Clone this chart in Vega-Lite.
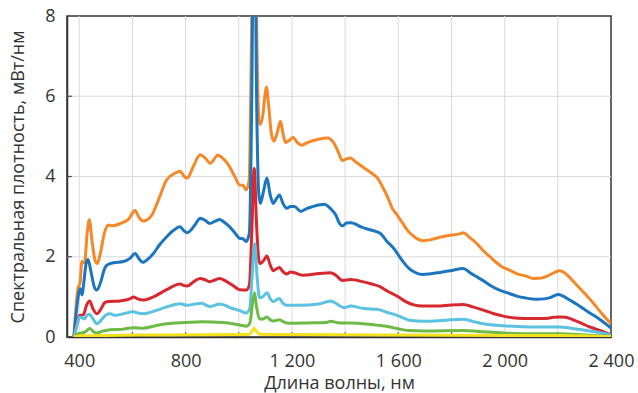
{
  "$schema": "https://vega.github.io/schema/vega-lite/v6.json",
  "width": 544,
  "height": 321,
  "autosize": "none",
  "padding": {"left": 67, "top": 16, "right": 27, "bottom": 56},
  "config": {
    "view": {"stroke": "#333333", "strokeWidth": 1.5},
    "font": "Open Sans",
    "axis": {
      "labelFont": "Open Sans", "titleFont": "Open Sans",
      "labelFontSize": 18, "titleFontSize": 18,
      "labelColor": "#333333", "titleColor": "#333333",
      "titleFontWeight": "normal",
      "domainColor": "#333333", "domainWidth": 1.5,
      "ticks": false, "grid": false
    }
  },
  "layer": [
    {
      "data": {"values": [{"v":400},{"v":600},{"v":800},{"v":1000},{"v":1200},{"v":1400},{"v":1600},{"v":1800},{"v":2000},{"v":2200}]},
      "mark": {"type": "rule", "color": "#dadada", "strokeWidth": 1},
      "encoding": {"x": {"field": "v", "type": "quantitative", "scale": {"domain": [354, 2400], "nice": false, "zero": false}}}
    },
    {
      "data": {"values": [{"v":2},{"v":4},{"v":6}]},
      "mark": {"type": "rule", "color": "#dadada", "strokeWidth": 1},
      "encoding": {"y": {"field": "v", "type": "quantitative", "scale": {"domain": [0, 8], "nice": false}}}
    },
    {
      "data": {"values": [{"v":400},{"v":600},{"v":800},{"v":1000},{"v":1200},{"v":1400},{"v":1600},{"v":1800},{"v":2000},{"v":2200}]},
      "mark": {"type": "rule", "color": "#444444", "strokeWidth": 1.2},
      "encoding": {
        "x": {"field": "v", "type": "quantitative", "scale": {"domain": [354, 2400], "nice": false, "zero": false}},
        "y": {"datum": 0, "type": "quantitative", "scale": {"domain": [0, 8], "nice": false}},
        "y2": {"datum": 0.12}
      }
    },
    {
      "data": {"values": [{"v":2},{"v":4},{"v":6}]},
      "mark": {"type": "rule", "color": "#444444", "strokeWidth": 1.2},
      "encoding": {
        "y": {"field": "v", "type": "quantitative", "scale": {"domain": [0, 8], "nice": false}},
        "x": {"datum": 354, "type": "quantitative", "scale": {"domain": [354, 2400], "nice": false, "zero": false}},
        "x2": {"datum": 372}
      }
    },
    {
      "data": {"values": [
        {"s":"s1","x":380,"y":0},{"s":"s1","x":395,"y":1.2},{"s":"s1","x":403,"y":1.35},{"s":"s1","x":410,"y":1.88},{"s":"s1","x":420,"y":1.85},{"s":"s1","x":430,"y":2.6},{"s":"s1","x":438,"y":2.92},{"s":"s1","x":448,"y":2.4},{"s":"s1","x":460,"y":1.9},{"s":"s1","x":468,"y":1.83},{"s":"s1","x":480,"y":2.1},{"s":"s1","x":495,"y":2.6},{"s":"s1","x":510,"y":2.79},{"s":"s1","x":525,"y":2.77},{"s":"s1","x":555,"y":2.83},{"s":"s1","x":585,"y":2.93},{"s":"s1","x":610,"y":3.15},{"s":"s1","x":625,"y":2.98},{"s":"s1","x":640,"y":2.89},{"s":"s1","x":673,"y":3.04},{"s":"s1","x":700,"y":3.45},{"s":"s1","x":729,"y":3.92},{"s":"s1","x":760,"y":4.08},{"s":"s1","x":779,"y":4.13},{"s":"s1","x":795,"y":4.0},{"s":"s1","x":806,"y":3.96},{"s":"s1","x":829,"y":4.25},{"s":"s1","x":855,"y":4.54},{"s":"s1","x":875,"y":4.45},{"s":"s1","x":893,"y":4.33},{"s":"s1","x":921,"y":4.53},{"s":"s1","x":945,"y":4.42},{"s":"s1","x":965,"y":4.25},{"s":"s1","x":985,"y":4.0},{"s":"s1","x":1003,"y":3.79},{"s":"s1","x":1015,"y":3.78},{"s":"s1","x":1028,"y":3.67},{"s":"s1","x":1039,"y":3.9},{"s":"s1","x":1047,"y":7},{"s":"s1","x":1058,"y":13},{"s":"s1","x":1069,"y":7},{"s":"s1","x":1076,"y":5.4},{"s":"s1","x":1082,"y":5.3},{"s":"s1","x":1092,"y":5.6},{"s":"s1","x":1099,"y":6.05},{"s":"s1","x":1104,"y":6.23},{"s":"s1","x":1112,"y":5.8},{"s":"s1","x":1122,"y":5.1},{"s":"s1","x":1132,"y":4.88},{"s":"s1","x":1145,"y":5.1},{"s":"s1","x":1157,"y":5.38},{"s":"s1","x":1167,"y":5.05},{"s":"s1","x":1176,"y":4.85},{"s":"s1","x":1190,"y":4.9},{"s":"s1","x":1204,"y":4.97},{"s":"s1","x":1220,"y":4.85},{"s":"s1","x":1235,"y":4.78},{"s":"s1","x":1260,"y":4.85},{"s":"s1","x":1300,"y":4.93},{"s":"s1","x":1334,"y":4.96},{"s":"s1","x":1358,"y":4.83},{"s":"s1","x":1375,"y":4.6},{"s":"s1","x":1389,"y":4.4},{"s":"s1","x":1405,"y":4.44},{"s":"s1","x":1420,"y":4.46},{"s":"s1","x":1440,"y":4.36},{"s":"s1","x":1470,"y":4.22},{"s":"s1","x":1500,"y":4.08},{"s":"s1","x":1522,"y":3.96},{"s":"s1","x":1540,"y":3.75},{"s":"s1","x":1559,"y":3.5},{"s":"s1","x":1578,"y":3.2},{"s":"s1","x":1596,"y":3.04},{"s":"s1","x":1615,"y":2.85},{"s":"s1","x":1633,"y":2.67},{"s":"s1","x":1660,"y":2.5},{"s":"s1","x":1695,"y":2.4},{"s":"s1","x":1720,"y":2.42},{"s":"s1","x":1753,"y":2.48},{"s":"s1","x":1800,"y":2.54},{"s":"s1","x":1830,"y":2.57},{"s":"s1","x":1845,"y":2.6},{"s":"s1","x":1865,"y":2.5},{"s":"s1","x":1895,"y":2.33},{"s":"s1","x":1920,"y":2.15},{"s":"s1","x":1945,"y":2.0},{"s":"s1","x":1970,"y":1.85},{"s":"s1","x":1990,"y":1.75},{"s":"s1","x":2020,"y":1.66},{"s":"s1","x":2045,"y":1.58},{"s":"s1","x":2080,"y":1.52},{"s":"s1","x":2108,"y":1.46},{"s":"s1","x":2140,"y":1.47},{"s":"s1","x":2160,"y":1.52},{"s":"s1","x":2185,"y":1.6},{"s":"s1","x":2207,"y":1.65},{"s":"s1","x":2225,"y":1.6},{"s":"s1","x":2245,"y":1.48},{"s":"s1","x":2270,"y":1.3},{"s":"s1","x":2295,"y":1.13},{"s":"s1","x":2320,"y":0.95},{"s":"s1","x":2345,"y":0.75},{"s":"s1","x":2370,"y":0.55},{"s":"s1","x":2400,"y":0.33},
        {"s":"s2","x":380,"y":0},{"s":"s2","x":392,"y":0.8},{"s":"s2","x":400,"y":1.15},{"s":"s2","x":404,"y":1.2},{"s":"s2","x":410,"y":1.05},{"s":"s2","x":418,"y":1.4},{"s":"s2","x":425,"y":1.8},{"s":"s2","x":433,"y":1.93},{"s":"s2","x":445,"y":1.6},{"s":"s2","x":458,"y":1.22},{"s":"s2","x":466,"y":1.17},{"s":"s2","x":480,"y":1.35},{"s":"s2","x":495,"y":1.7},{"s":"s2","x":504,"y":1.79},{"s":"s2","x":529,"y":1.85},{"s":"s2","x":566,"y":1.88},{"s":"s2","x":591,"y":1.96},{"s":"s2","x":610,"y":2.08},{"s":"s2","x":625,"y":1.95},{"s":"s2","x":639,"y":1.86},{"s":"s2","x":660,"y":1.95},{"s":"s2","x":679,"y":2.08},{"s":"s2","x":700,"y":2.28},{"s":"s2","x":729,"y":2.5},{"s":"s2","x":755,"y":2.66},{"s":"s2","x":779,"y":2.75},{"s":"s2","x":795,"y":2.64},{"s":"s2","x":806,"y":2.6},{"s":"s2","x":835,"y":2.79},{"s":"s2","x":855,"y":2.96},{"s":"s2","x":875,"y":2.9},{"s":"s2","x":890,"y":2.83},{"s":"s2","x":910,"y":2.88},{"s":"s2","x":928,"y":2.93},{"s":"s2","x":945,"y":2.86},{"s":"s2","x":965,"y":2.75},{"s":"s2","x":985,"y":2.6},{"s":"s2","x":1003,"y":2.46},{"s":"s2","x":1015,"y":2.45},{"s":"s2","x":1028,"y":2.38},{"s":"s2","x":1040,"y":2.6},{"s":"s2","x":1049,"y":6},{"s":"s2","x":1058,"y":12},{"s":"s2","x":1067,"y":6},{"s":"s2","x":1075,"y":3.6},{"s":"s2","x":1081,"y":3.33},{"s":"s2","x":1092,"y":3.6},{"s":"s2","x":1106,"y":3.96},{"s":"s2","x":1118,"y":3.55},{"s":"s2","x":1130,"y":3.33},{"s":"s2","x":1142,"y":3.45},{"s":"s2","x":1153,"y":3.54},{"s":"s2","x":1165,"y":3.35},{"s":"s2","x":1180,"y":3.21},{"s":"s2","x":1195,"y":3.25},{"s":"s2","x":1209,"y":3.25},{"s":"s2","x":1234,"y":3.13},{"s":"s2","x":1255,"y":3.2},{"s":"s2","x":1278,"y":3.25},{"s":"s2","x":1321,"y":3.31},{"s":"s2","x":1345,"y":3.2},{"s":"s2","x":1365,"y":3.04},{"s":"s2","x":1380,"y":2.82},{"s":"s2","x":1390,"y":2.77},{"s":"s2","x":1405,"y":2.84},{"s":"s2","x":1421,"y":2.85},{"s":"s2","x":1465,"y":2.73},{"s":"s2","x":1500,"y":2.66},{"s":"s2","x":1533,"y":2.58},{"s":"s2","x":1555,"y":2.4},{"s":"s2","x":1583,"y":2.21},{"s":"s2","x":1610,"y":1.95},{"s":"s2","x":1640,"y":1.71},{"s":"s2","x":1660,"y":1.62},{"s":"s2","x":1690,"y":1.56},{"s":"s2","x":1715,"y":1.57},{"s":"s2","x":1745,"y":1.6},{"s":"s2","x":1795,"y":1.65},{"s":"s2","x":1845,"y":1.71},{"s":"s2","x":1870,"y":1.6},{"s":"s2","x":1895,"y":1.5},{"s":"s2","x":1920,"y":1.4},{"s":"s2","x":1945,"y":1.29},{"s":"s2","x":1970,"y":1.2},{"s":"s2","x":1989,"y":1.15},{"s":"s2","x":2015,"y":1.09},{"s":"s2","x":2045,"y":1.02},{"s":"s2","x":2080,"y":0.97},{"s":"s2","x":2120,"y":0.94},{"s":"s2","x":2150,"y":0.95},{"s":"s2","x":2171,"y":0.98},{"s":"s2","x":2201,"y":1.06},{"s":"s2","x":2220,"y":1.02},{"s":"s2","x":2245,"y":0.92},{"s":"s2","x":2270,"y":0.82},{"s":"s2","x":2295,"y":0.71},{"s":"s2","x":2320,"y":0.6},{"s":"s2","x":2345,"y":0.5},{"s":"s2","x":2370,"y":0.38},{"s":"s2","x":2400,"y":0.22},
        {"s":"s3","x":380,"y":0},{"s":"s3","x":392,"y":0.35},{"s":"s3","x":400,"y":0.53},{"s":"s3","x":415,"y":0.55},{"s":"s3","x":428,"y":0.8},{"s":"s3","x":439,"y":0.9},{"s":"s3","x":452,"y":0.7},{"s":"s3","x":466,"y":0.58},{"s":"s3","x":480,"y":0.68},{"s":"s3","x":495,"y":0.85},{"s":"s3","x":504,"y":0.88},{"s":"s3","x":554,"y":0.9},{"s":"s3","x":590,"y":0.95},{"s":"s3","x":604,"y":1.0},{"s":"s3","x":620,"y":0.95},{"s":"s3","x":639,"y":0.92},{"s":"s3","x":679,"y":1.0},{"s":"s3","x":729,"y":1.18},{"s":"s3","x":779,"y":1.32},{"s":"s3","x":795,"y":1.28},{"s":"s3","x":806,"y":1.27},{"s":"s3","x":835,"y":1.4},{"s":"s3","x":855,"y":1.46},{"s":"s3","x":875,"y":1.42},{"s":"s3","x":890,"y":1.38},{"s":"s3","x":910,"y":1.42},{"s":"s3","x":928,"y":1.46},{"s":"s3","x":950,"y":1.4},{"s":"s3","x":977,"y":1.29},{"s":"s3","x":1003,"y":1.18},{"s":"s3","x":1028,"y":1.17},{"s":"s3","x":1040,"y":1.3},{"s":"s3","x":1049,"y":2.6},{"s":"s3","x":1058,"y":4.2},{"s":"s3","x":1067,"y":2.8},{"s":"s3","x":1076,"y":1.9},{"s":"s3","x":1082,"y":1.83},{"s":"s3","x":1093,"y":1.9},{"s":"s3","x":1106,"y":2.02},{"s":"s3","x":1118,"y":1.8},{"s":"s3","x":1130,"y":1.65},{"s":"s3","x":1142,"y":1.7},{"s":"s3","x":1153,"y":1.73},{"s":"s3","x":1165,"y":1.64},{"s":"s3","x":1180,"y":1.57},{"s":"s3","x":1195,"y":1.62},{"s":"s3","x":1210,"y":1.6},{"s":"s3","x":1240,"y":1.54},{"s":"s3","x":1303,"y":1.58},{"s":"s3","x":1345,"y":1.6},{"s":"s3","x":1365,"y":1.54},{"s":"s3","x":1390,"y":1.41},{"s":"s3","x":1421,"y":1.43},{"s":"s3","x":1465,"y":1.38},{"s":"s3","x":1500,"y":1.32},{"s":"s3","x":1533,"y":1.25},{"s":"s3","x":1560,"y":1.14},{"s":"s3","x":1595,"y":1.02},{"s":"s3","x":1628,"y":0.88},{"s":"s3","x":1658,"y":0.8},{"s":"s3","x":1690,"y":0.77},{"s":"s3","x":1745,"y":0.77},{"s":"s3","x":1800,"y":0.8},{"s":"s3","x":1845,"y":0.81},{"s":"s3","x":1880,"y":0.75},{"s":"s3","x":1920,"y":0.67},{"s":"s3","x":1960,"y":0.58},{"s":"s3","x":1995,"y":0.52},{"s":"s3","x":2030,"y":0.48},{"s":"s3","x":2070,"y":0.46},{"s":"s3","x":2145,"y":0.46},{"s":"s3","x":2185,"y":0.49},{"s":"s3","x":2207,"y":0.5},{"s":"s3","x":2230,"y":0.49},{"s":"s3","x":2260,"y":0.42},{"s":"s3","x":2290,"y":0.34},{"s":"s3","x":2320,"y":0.25},{"s":"s3","x":2355,"y":0.17},{"s":"s3","x":2400,"y":0.06},
        {"s":"s4","x":380,"y":0},{"s":"s4","x":392,"y":0.3},{"s":"s4","x":400,"y":0.5},{"s":"s4","x":410,"y":0.48},{"s":"s4","x":420,"y":0.45},{"s":"s4","x":430,"y":0.55},{"s":"s4","x":439,"y":0.57},{"s":"s4","x":452,"y":0.45},{"s":"s4","x":466,"y":0.33},{"s":"s4","x":480,"y":0.4},{"s":"s4","x":500,"y":0.55},{"s":"s4","x":516,"y":0.58},{"s":"s4","x":535,"y":0.54},{"s":"s4","x":560,"y":0.57},{"s":"s4","x":604,"y":0.63},{"s":"s4","x":625,"y":0.59},{"s":"s4","x":645,"y":0.58},{"s":"s4","x":680,"y":0.64},{"s":"s4","x":729,"y":0.75},{"s":"s4","x":779,"y":0.83},{"s":"s4","x":806,"y":0.79},{"s":"s4","x":835,"y":0.82},{"s":"s4","x":860,"y":0.84},{"s":"s4","x":890,"y":0.76},{"s":"s4","x":928,"y":0.82},{"s":"s4","x":977,"y":0.71},{"s":"s4","x":1003,"y":0.66},{"s":"s4","x":1028,"y":0.6},{"s":"s4","x":1041,"y":0.7},{"s":"s4","x":1050,"y":1.5},{"s":"s4","x":1060,"y":2.33},{"s":"s4","x":1069,"y":1.5},{"s":"s4","x":1078,"y":0.98},{"s":"s4","x":1090,"y":1.0},{"s":"s4","x":1106,"y":1.1},{"s":"s4","x":1118,"y":0.96},{"s":"s4","x":1130,"y":0.88},{"s":"s4","x":1142,"y":0.93},{"s":"s4","x":1153,"y":0.96},{"s":"s4","x":1165,"y":0.85},{"s":"s4","x":1180,"y":0.79},{"s":"s4","x":1228,"y":0.79},{"s":"s4","x":1300,"y":0.82},{"s":"s4","x":1345,"y":0.9},{"s":"s4","x":1370,"y":0.82},{"s":"s4","x":1396,"y":0.73},{"s":"s4","x":1421,"y":0.77},{"s":"s4","x":1470,"y":0.71},{"s":"s4","x":1520,"y":0.69},{"s":"s4","x":1560,"y":0.61},{"s":"s4","x":1595,"y":0.54},{"s":"s4","x":1640,"y":0.42},{"s":"s4","x":1670,"y":0.4},{"s":"s4","x":1700,"y":0.39},{"s":"s4","x":1778,"y":0.42},{"s":"s4","x":1845,"y":0.44},{"s":"s4","x":1880,"y":0.39},{"s":"s4","x":1920,"y":0.33},{"s":"s4","x":1995,"y":0.28},{"s":"s4","x":2050,"y":0.26},{"s":"s4","x":2108,"y":0.25},{"s":"s4","x":2207,"y":0.25},{"s":"s4","x":2250,"y":0.22},{"s":"s4","x":2290,"y":0.18},{"s":"s4","x":2340,"y":0.13},{"s":"s4","x":2400,"y":0.05},
        {"s":"s5","x":380,"y":0},{"s":"s5","x":395,"y":0.08},{"s":"s5","x":410,"y":0.1},{"s":"s5","x":425,"y":0.14},{"s":"s5","x":439,"y":0.21},{"s":"s5","x":452,"y":0.14},{"s":"s5","x":466,"y":0.1},{"s":"s5","x":490,"y":0.15},{"s":"s5","x":516,"y":0.18},{"s":"s5","x":560,"y":0.19},{"s":"s5","x":604,"y":0.23},{"s":"s5","x":640,"y":0.22},{"s":"s5","x":680,"y":0.27},{"s":"s5","x":729,"y":0.33},{"s":"s5","x":800,"y":0.36},{"s":"s5","x":860,"y":0.38},{"s":"s5","x":940,"y":0.36},{"s":"s5","x":1003,"y":0.3},{"s":"s5","x":1030,"y":0.27},{"s":"s5","x":1042,"y":0.35},{"s":"s5","x":1051,"y":0.8},{"s":"s5","x":1059,"y":1.1},{"s":"s5","x":1067,"y":0.75},{"s":"s5","x":1078,"y":0.45},{"s":"s5","x":1092,"y":0.45},{"s":"s5","x":1106,"y":0.5},{"s":"s5","x":1120,"y":0.42},{"s":"s5","x":1130,"y":0.4},{"s":"s5","x":1153,"y":0.43},{"s":"s5","x":1170,"y":0.37},{"s":"s5","x":1190,"y":0.34},{"s":"s5","x":1260,"y":0.35},{"s":"s5","x":1330,"y":0.36},{"s":"s5","x":1345,"y":0.39},{"s":"s5","x":1380,"y":0.35},{"s":"s5","x":1420,"y":0.35},{"s":"s5","x":1500,"y":0.31},{"s":"s5","x":1527,"y":0.29},{"s":"s5","x":1560,"y":0.26},{"s":"s5","x":1595,"y":0.21},{"s":"s5","x":1640,"y":0.16},{"s":"s5","x":1700,"y":0.15},{"s":"s5","x":1845,"y":0.16},{"s":"s5","x":1900,"y":0.14},{"s":"s5","x":1995,"y":0.1},{"s":"s5","x":2100,"y":0.08},{"s":"s5","x":2207,"y":0.08},{"s":"s5","x":2300,"y":0.05},{"s":"s5","x":2400,"y":0.01},
        {"s":"s6","x":380,"y":0},{"s":"s6","x":400,"y":0.03},{"s":"s6","x":500,"y":0.04},{"s":"s6","x":700,"y":0.05},{"s":"s6","x":1000,"y":0.06},{"s":"s6","x":1040,"y":0.07},{"s":"s6","x":1051,"y":0.15},{"s":"s6","x":1058,"y":0.22},{"s":"s6","x":1066,"y":0.14},{"s":"s6","x":1080,"y":0.07},{"s":"s6","x":1200,"y":0.06},{"s":"s6","x":1600,"y":0.05},{"s":"s6","x":2000,"y":0.04},{"s":"s6","x":2200,"y":0.04},{"s":"s6","x":2400,"y":0.01}
      ]},
      "mark": {"type": "line", "interpolate": "monotone", "strokeWidth": 3, "clip": true},
      "encoding": {
        "x": {
          "field": "x", "type": "quantitative",
          "scale": {"domain": [354, 2400], "nice": false, "zero": false},
          "axis": {
            "title": "Длина волны, нм",
            "values": [400, 800, 1200, 1600, 2000, 2400],
            "labelExpr": "replace(format(datum.value, ','), ',', ' ')",
            "labelPadding": 15,
            "labelFlush": false,
            "titleBaseline": "alphabetic",
            "titleY": 51
          }
        },
        "y": {
          "field": "y", "type": "quantitative",
          "scale": {"domain": [0, 8], "nice": false},
          "axis": {
            "title": "Спектральная плотность, мВт/нм",
            "values": [0, 2, 4, 6, 8],
            "labelPadding": 12,
            "titlePadding": 17
          }
        },
        "color": {
          "field": "s", "type": "nominal",
          "scale": {"domain": ["s1","s2","s3","s4","s5","s6"], "range": ["#F5892A","#1C76BF","#D8282F","#5CC2E2","#6DBA45","#F6E11E"]},
          "legend": null
        }
      }
    }
  ]
}
